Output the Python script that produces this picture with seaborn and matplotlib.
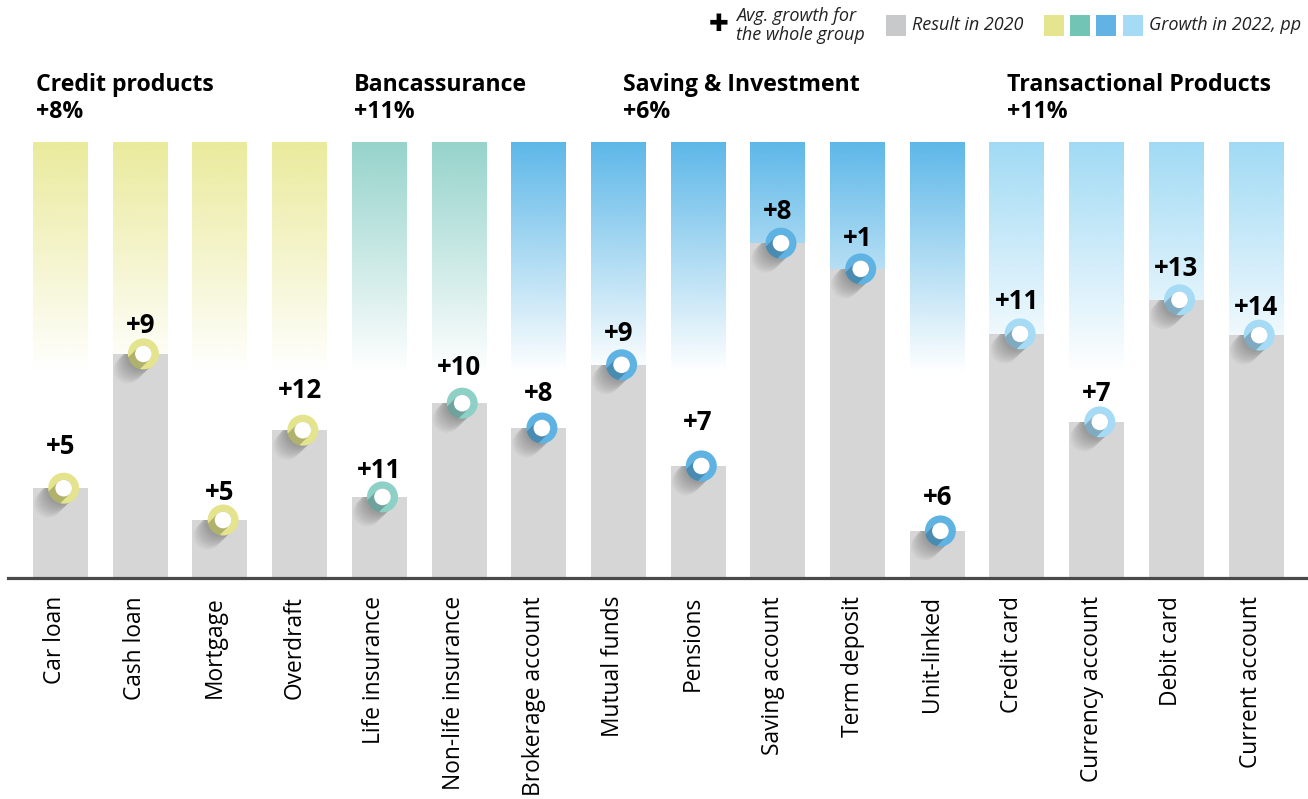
import numpy as np
import pandas as pd
import matplotlib
matplotlib.use("Agg")
import matplotlib.pyplot as plt
import matplotlib.transforms as mtransforms
from matplotlib.patches import Circle, Polygon, Rectangle
from matplotlib.colors import to_rgb
import seaborn as sns

# ---- data -------------------------------------------------------------
products = ["Car loan", "Cash loan", "Mortgage", "Overdraft",
            "Life insurance", "Non-life insurance",
            "Brokerage account", "Mutual funds", "Pensions", "Saving account",
            "Term deposit", "Unit-linked",
            "Credit card", "Currency account", "Debit card", "Current account"]
product_group = ["Credit products"] * 4 + ["Bancassurance"] * 2 + \
                ["Saving & Investment"] * 6 + ["Transactional Products"] * 4
result_2020 = [20.6, 51.4, 13.3, 33.9, 18.6, 40.1, 34.4, 48.9,
               25.7, 76.8, 70.9, 10.8, 56.0, 35.8, 63.8, 55.7]
growth_2022 = [5, 9, 5, 12, 11, 10, 8, 9, 7, 8, 1, 6, 11, 7, 13, 14]

group_names = ["Credit products", "Bancassurance", "Saving & Investment",
               "Transactional Products"]
group_avg = ["+8%", "+11%", "+6%", "+11%"]

# ---- styling ----------------------------------------------------------
group_ring = {"Credit products": "#e4e48e", "Bancassurance": "#8dd0c6",
              "Saving & Investment": "#5fb3e3", "Transactional Products": "#a5dbf5"}
group_fade = {"Credit products": "#ebeb9c", "Bancassurance": "#95d3cb",
              "Saving & Investment": "#5cb7e8", "Transactional Products": "#a0daf5"}
legend_squares = ["#e5e58f", "#72c5b5", "#62b3e3", "#a6dbf6"]
bar_gray = "#d6d6d6"
# horizontal anchor of each group heading (in bar-index units)
title_x = [-0.31, 3.68, 7.06, 11.88]
# label lift above each bar top, in pixels
label_lift = [42, 28, 28, 40, 26, 36, 35, 31, 43, 32, 30, 33, 32, 28, 31, 28]

W, H = 1308, 799
DPI = 100

sns.set_theme(style="white")
plt.rcParams["font.family"] = ["Open Sans", "DejaVu Sans"]

fig = plt.figure(figsize=(W / DPI, H / DPI), dpi=DPI)


def fx(px):
    return px / W


def fy(py):
    return 1 - py / H


ax = fig.add_axes([fx(8), fy(578), fx(1300), (578 - 142) / H])

df = pd.DataFrame({"product": products, "group": product_group,
                   "result": result_2020, "growth": growth_2022})

sns.barplot(data=df, x="product", y="result", color=bar_gray, saturation=1,
            width=0.69, ax=ax, zorder=2, linewidth=0)
bars = list(ax.patches)

# fading columns behind the bars
fade_bottom = 47.0
half_w = 0.345
n_steps = 256
alpha = np.linspace(1.0, 0.0, n_steps)
for i, g in enumerate(product_group):
    rgb = to_rgb(group_fade[g])
    img = np.zeros((n_steps, 1, 4))
    img[:, 0, :3] = rgb
    img[:, 0, 3] = alpha
    ax.imshow(img, extent=[i - half_w, i + half_w, fade_bottom, 100],
              aspect="auto", origin="upper", interpolation="bilinear", zorder=1)

ax.set_xlim(-0.6587, 15.652)
ax.set_ylim(0, 100)


def capsule(r, length, n=40):
    a1 = np.linspace(-np.pi / 4, 3 * np.pi / 4, n)
    a2 = np.linspace(3 * np.pi / 4, 7 * np.pi / 4, n)
    d = length / np.sqrt(2)
    p1 = np.c_[r * np.cos(a1), r * np.sin(a1)]
    p2 = np.c_[r * np.cos(a2) - d, r * np.sin(a2) - d]
    return np.vstack([p1, p2])


r_out, r_in = 0.155, 0.083
for i, (g, val, grow) in enumerate(zip(product_group, result_2020, growth_2022)):
    xm = i + 0.04
    trans = fig.dpi_scale_trans + mtransforms.ScaledTranslation(xm, val, ax.transData)
    # long soft shadow of the ring on the bar
    for k in range(1, 11):
        sh = Polygon(capsule(r_out * 0.9, 0.022 * k), closed=True, transform=trans,
                     facecolor="black", alpha=0.03, lw=0, zorder=3)
        ax.add_patch(sh)
        sh.set_clip_path(bars[i])
    ring = Circle((0, 0), r_out, transform=trans, facecolor=group_ring[g],
                  lw=0, zorder=4)
    ax.add_patch(ring)
    inner_sh = Polygon(capsule(r_in, 0.3), closed=True, transform=trans,
                       facecolor="black", alpha=0.22, lw=0, zorder=5)
    ax.add_patch(inner_sh)
    inner_sh.set_clip_path(ring)
    ax.add_patch(Circle((0, 0), r_in, transform=trans, facecolor="white",
                        lw=0, zorder=6))
    ax.annotate(f"+{grow}", xy=(i, val), xytext=(0, label_lift[i] * 0.72),
                textcoords="offset points", ha="center", va="center",
                fontsize=18.5, fontweight="bold", color="black", zorder=7)

# axes cosmetics
for s in ["top", "right", "left"]:
    ax.spines[s].set_visible(False)
ax.spines["bottom"].set_color("#4a4a4a")
ax.spines["bottom"].set_linewidth(2.3)
ax.set_yticks([])
ax.set_xlabel("")
ax.set_ylabel("")
ax.tick_params(axis="x", length=0, pad=13)
ax.set_xticks(range(len(products)))
ax.set_xticklabels(products, rotation=90, fontsize=16.4, color="black")
shift = mtransforms.ScaledTranslation(-5 / DPI, 0, fig.dpi_scale_trans)
for lab in ax.get_xticklabels():
    lab.set_transform(lab.get_transform() + shift)

# group headings
bt = mtransforms.blended_transform_factory(ax.transData, fig.transFigure)
for name, avg, xt in zip(group_names, group_avg, title_x):
    ax.text(xt, fy(85), name, transform=bt, ha="left", va="center",
            fontsize=16.7, fontweight="bold", color="black")
    ax.text(xt, fy(112), avg, transform=bt, ha="left", va="center",
            fontsize=16.7, fontweight="bold", color="black")

# legend
fig.text(fx(719), fy(24), "\u271a", family="DejaVu Sans", fontsize=17,
         ha="center", va="center", color="black")
fig.text(fx(736), fy(16), "Avg. growth for", fontsize=13, style="italic",
         ha="left", va="center", color="#222222")
fig.text(fx(736), fy(35), "the whole group", fontsize=13, style="italic",
         ha="left", va="center", color="#222222")
fig.add_artist(Rectangle((fx(886), fy(36)), fx(20), 21 / H,
                         transform=fig.transFigure, facecolor="#c8c9cb", lw=0))
fig.text(fx(912), fy(25), "Result in 2020", fontsize=13, style="italic",
         ha="left", va="center", color="#222222")
for xs, c in zip([1044, 1070, 1096, 1123], legend_squares):
    fig.add_artist(Rectangle((fx(xs), fy(36)), fx(20), 21 / H,
                             transform=fig.transFigure, facecolor=c, lw=0))
fig.text(fx(1149), fy(25), "Growth in 2022, pp", fontsize=13, style="italic",
         ha="left", va="center", color="#222222")

fig.savefig("out.png", dpi=DPI)
